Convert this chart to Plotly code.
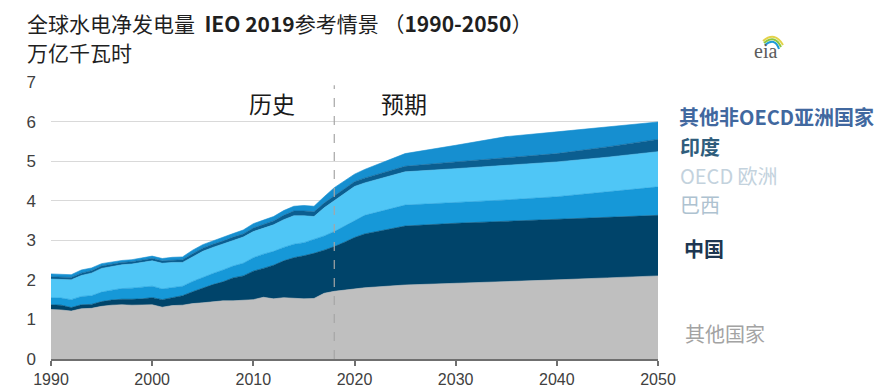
import plotly.graph_objects as go

years = list(range(1990, 2022)) + [2025, 2030, 2035, 2040, 2045, 2050]

other_countries = [1.25, 1.24, 1.21, 1.27, 1.28, 1.33, 1.36, 1.37, 1.36, 1.37,
                   1.37, 1.31, 1.35, 1.36, 1.40, 1.42, 1.45, 1.47, 1.47, 1.48,
                   1.50, 1.56, 1.52, 1.55, 1.54, 1.52, 1.53, 1.66, 1.71, 1.74,
                   1.77, 1.80, 1.87, 1.91, 1.95, 2.00, 2.05, 2.10]
china = [0.12, 0.12, 0.09, 0.10, 0.10, 0.12, 0.13, 0.14, 0.15, 0.15,
         0.18, 0.19, 0.20, 0.24, 0.30, 0.38, 0.43, 0.48, 0.58, 0.62,
         0.72, 0.73, 0.85, 0.93, 1.02, 1.09, 1.14, 1.09, 1.13, 1.21,
         1.30, 1.36, 1.49, 1.52, 1.53, 1.53, 1.53, 1.53]
brazil = [0.18, 0.18, 0.20, 0.21, 0.22, 0.24, 0.25, 0.27, 0.28, 0.29,
          0.29, 0.27, 0.25, 0.24, 0.26, 0.27, 0.28, 0.30, 0.30, 0.32,
          0.34, 0.36, 0.35, 0.34, 0.34, 0.33, 0.35, 0.36, 0.38, 0.41,
          0.44, 0.47, 0.53, 0.52, 0.54, 0.57, 0.64, 0.72]
oecd_europe = [0.47, 0.47, 0.50, 0.53, 0.57, 0.60, 0.59, 0.60, 0.61, 0.63,
               0.64, 0.65, 0.64, 0.60, 0.63, 0.65, 0.66, 0.65, 0.65, 0.66,
               0.66, 0.65, 0.67, 0.70, 0.72, 0.68, 0.58, 0.71, 0.78, 0.82,
               0.85, 0.82, 0.84, 0.86, 0.87, 0.88, 0.88, 0.89]
india = [0.06, 0.06, 0.06, 0.06, 0.06, 0.06, 0.06, 0.06, 0.06, 0.06,
         0.06, 0.06, 0.06, 0.07, 0.07, 0.08, 0.08, 0.08, 0.08, 0.08,
         0.09, 0.10, 0.10, 0.11, 0.12, 0.12, 0.12, 0.12, 0.12, 0.12,
         0.12, 0.12, 0.14, 0.17, 0.19, 0.21, 0.26, 0.31]
other_asia = [0.07, 0.07, 0.07, 0.08, 0.07, 0.06, 0.06, 0.05, 0.05, 0.05,
              0.06, 0.06, 0.07, 0.07, 0.09, 0.09, 0.09, 0.09, 0.09, 0.10,
              0.11, 0.11, 0.11, 0.12, 0.12, 0.14, 0.14, 0.16, 0.21, 0.20,
              0.19, 0.22, 0.32, 0.42, 0.54, 0.55, 0.50, 0.44]

series_names = ["其他国家", "中国", "巴西", "OECD 欧洲", "印度", "其他非OECD亚洲国家"]
series_values = [other_countries, china, brazil, oecd_europe, india, other_asia]
fill_colors = ["#bfbfbf", "#00446a", "#1698d8", "#4fc6f6", "#0b5e90", "#168fd0"]

label_colors = ["#a3a3a3", "#1d3651", "#aec2d0", "#c3d2dd", "#2f5d7c", "#41689f"]
label_bold = [False, True, False, False, True, True]
label_ypix = [333, 248, 204, 175, 146, 116]
label_xpix = [683, 682, 678, 678, 678, 677]

x_ticks = [1990, 2000, 2010, 2020, 2030, 2040, 2050]
y_ticks = [0, 1, 2, 3, 4, 5, 6, 7]

# page has an 8px body margin: figure is drawn 8px right/down of the window corner
OFF = 8
W, H = 882 - OFF, 390 - OFF
# plot area in window pixels
L, R, T, B = 51, 658, 82, 359


def px(X, Y):
    return (X - L) / (R - L), (B - Y) / (B - T)


fig = go.Figure()
for name, vals, col in zip(series_names, series_values, fill_colors):
    fig.add_trace(go.Scatter(
        x=years, y=vals, name=name, mode="lines", stackgroup="one",
        line=dict(width=0.6, color=col), fillcolor=col, showlegend=False,
    ))

annotations = []
for name, col, bold, yp, xp in zip(series_names, label_colors, label_bold, label_ypix, label_xpix):
    ax, ay = px(xp, yp)
    annotations.append(dict(
        x=ax, y=ay, xref="paper", yref="paper", xanchor="left", yanchor="middle",
        text=f"<b>{name}</b>" if bold else name, showarrow=False,
        font=dict(family="Noto Sans CJK SC", size=20, color=col),
    ))

for txt, xpix in (("历史", 272), ("预期", 404)):
    ax, ay = px(xpix, 103)
    annotations.append(dict(x=ax, y=ay, xref="paper", yref="paper", xanchor="center", yanchor="middle",
                            text=txt, showarrow=False,
                            font=dict(family="Noto Sans CJK SC", size=23, color="#1a1a1a")))

# title lines
title_lines = ["全球水电净发电量  <b>IEO 2019</b>参考情景 （<b>1990-2050</b>）", "万亿千瓦时"]
for txt, ypix in zip(title_lines, (23, 52)):
    tx, ty = px(25, ypix)
    annotations.append(dict(
        x=tx, y=ty, xref="paper", yref="paper", xanchor="left", yanchor="middle",
        text=txt, showarrow=False,
        font=dict(family="Noto Sans CJK SC", size=21, color="#1f1f1f"),
    ))

# eia logo text
lx, ly = px(765, 51)
annotations.append(dict(x=lx, y=ly, xref="paper", yref="paper", xanchor="center", yanchor="middle",
                        text="eia", showarrow=False,
                        font=dict(family="Liberation Serif", size=20, color="#5c5c5c")))

shapes = [dict(type="line", xref="x", yref="y", x0=2018, x1=2018, y0=0, y1=6.92,
               line=dict(color="#a6a6a6", width=1.2, dash="dash"), layer="above")]

arcs = [((763, 41), (775, 31), (783, 45), "#e3d34a"),
        ((764, 43), (775, 34), (781, 47), "#8cc63f"),
        ((765, 45), (775, 37), (779, 49), "#1e9bd7")]
for p0, pc, p1, col in arcs:
    a = px(*p0); c = px(*pc); b = px(*p1)
    shapes.append(dict(type="path", xref="paper", yref="paper",
                       path=f"M {a[0]} {a[1]} Q {c[0]} {c[1]} {b[0]} {b[1]}",
                       line=dict(color=col, width=2)))

fig.update_layout(
    width=W, height=H, autosize=False,
    margin=dict(l=L - OFF, r=(W + OFF) - R, t=T - OFF, b=(H + OFF) - B, pad=0),
    paper_bgcolor="white", plot_bgcolor="white",
    annotations=annotations, shapes=shapes,
    xaxis=dict(range=[1990, 2050], tickvals=x_ticks, showgrid=False, zeroline=False,
               automargin=False,
               showline=True, linecolor="#6f6f6f", linewidth=1.5,
               ticks="outside", ticklen=5, tickcolor="#6f6f6f", tickwidth=1.5,
               ticklabelstandoff=0,
               tickfont=dict(family="Liberation Sans", size=16, color="#404040")),
    yaxis=dict(range=[0, 7], tickvals=y_ticks, showgrid=True, gridcolor="#d9d9d9", gridwidth=1,
               automargin=False,
               zeroline=False, showline=False, ticks="", ticklabelstandoff=14,
               tickfont=dict(family="Liberation Sans", size=17, color="#404040")),
)

fig.write_html("out.html")
